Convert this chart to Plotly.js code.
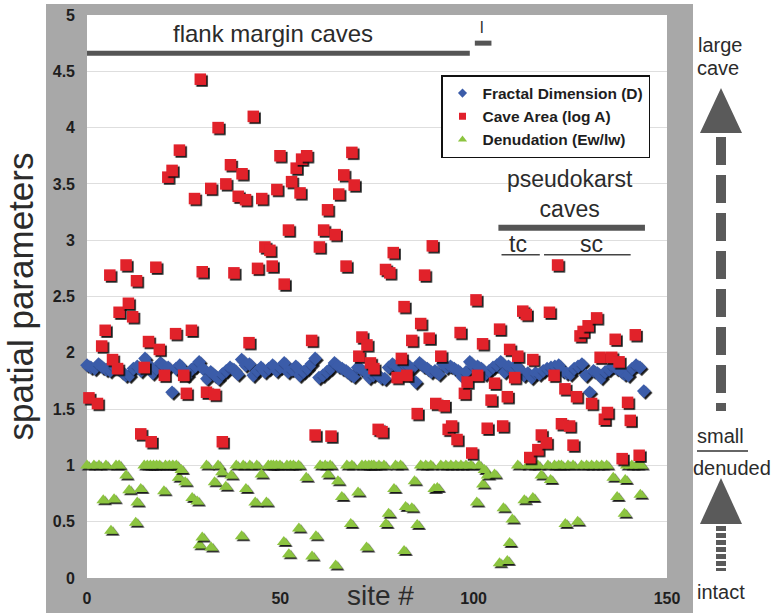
<!DOCTYPE html>
<html>
<head>
<meta charset="utf-8">
<script src="https://cdn.plot.ly/plotly-3.0.1.min.js"></script>
<style>
html,body{margin:0;padding:0;background:#fff;}
#chart{width:774px;height:615px;}
#chart .scatterlayer .points path{filter:url(#mkshadow);}
</style>
</head>
<body>
<svg width="0" height="0" style="position:absolute">
 <defs>
  <filter id="mkshadow" x="-60%" y="-60%" width="220%" height="220%">
   <feDropShadow dx="1.8" dy="1.8" stdDeviation="0.45" flood-color="#111" flood-opacity="0.95"/>
  </filter>
 </defs>
</svg>
<div id="chart"></div>
<script>
// ---------------- DATA ----------------
const seriesNames = ['Fractal Dimension (D)', 'Cave Area (log A)', 'Denudation (Ew/lw)'];

// Fractal dimension D, one per site
const fractalSites = [0,1,2,3,4,5,6,7,8,9,10,11,12,13,14,15,16,17,18,19,20,21,22,23,24,25,26,27,28,29,
  30,31,32,33,34,35,36,37,38,39,40,41,42,43,44,45,46,47,48,49,50,51,52,53,54,55,56,57,58,59,
  60,61,62,63,64,65,66,67,68,69,70,71,72,73,74,75,76,77,78,79,80,81,82,83,84,85,86,87,88,89,
  90,91,92,93,94,95,96,97,98,99,100,101,102,103,104,105,106,107,108,109,110,111,112,113,114,115,116,117,118,119,
  120,121,122,123,124,125,126,127,128,129,130,131,132,133,134,135,136,137,138,139,140,141,142,143,144];
const fractalD = [1.89,1.87,1.86,1.90,1.87,1.85,1.84,1.88,1.86,1.83,1.80,1.80,1.86,1.88,1.84,1.95,1.89,1.82,1.86,1.91,
  1.88,1.87,1.65,1.86,1.89,1.84,1.80,1.85,1.88,1.92,1.86,1.77,1.83,1.80,1.77,1.81,1.84,1.87,1.85,1.81,
  1.94,1.89,1.90,1.80,1.84,1.87,1.83,1.86,1.89,1.84,1.87,1.91,1.83,1.85,1.88,1.80,1.83,1.86,1.90,1.95,
  1.78,1.80,1.83,1.86,1.91,1.88,1.86,1.84,1.81,1.79,1.87,1.85,1.83,1.78,1.80,1.81,1.78,1.77,1.87,1.90,
  1.88,1.86,1.90,1.89,1.86,1.74,1.91,1.88,1.86,1.83,1.84,1.81,1.90,1.87,1.88,1.86,1.84,1.79,1.83,1.92,
  1.88,1.88,1.86,1.81,1.84,1.87,1.89,1.92,1.83,1.88,1.86,1.89,1.85,1.80,1.82,1.78,1.82,1.81,1.84,1.86,
  1.87,1.88,1.89,1.84,1.82,1.81,1.86,1.88,1.90,1.80,1.65,1.84,1.82,1.78,1.83,1.85,1.88,1.86,1.84,1.81,
  1.80,1.86,1.89,1.87,1.66];

// Cave area (log A)
const caveSites = [0.5,2.7,3.8,4.7,5.9,6.6,7.9,8.3,10.1,10.7,
  11.8,12.8,13.9,14.8,15.9,16.6,17.8,18.7,20.0,20.9,
  22.0,22.9,23.9,25.0,25.7,27.0,27.8,29.3,29.8,30.9,
  32.0,33.0,33.9,35.0,35.9,37.1,38.0,39.1,40.1,41.0,
  41.9,43.0,44.1,45.2,46.0,47.3,47.9,49.1,49.9,51.0,
  52.1,52.9,54.1,55.1,55.5,56.8,58.1,59.0,60.1,61.2,
  62.2,63.1,64.2,65.1,66.4,67.0,68.5,69.1,70.3,71.1,
  72.4,73.3,74.2,75.3,76.3,77.2,78.3,79.2,80.2,81.3,
  82.0,82.7,84.0,85.4,86.3,87.3,88.5,89.3,90.2,91.5,
  92.4,93.4,94.3,95.7,96.5,97.6,98.3,99.5,100.6,101.0,
  102.3,103.5,104.5,105.4,106.7,107.5,108.7,109.3,110.6,111.4,
  112.7,113.6,114.5,115.3,116.6,117.5,118.8,119.6,120.8,121.7,
  122.7,123.6,124.8,125.7,126.6,127.5,128.3,129.6,130.5,131.8,
  132.7,133.8,134.6,135.7,136.6,137.6,138.4,139.8,140.5,141.8,
  142.8];
const caveLogA = [1.60,1.55,2.06,2.20,2.69,1.94,1.86,2.36,2.78,2.44,
  2.32,2.64,1.28,1.87,2.10,1.21,2.76,2.03,1.80,3.56,
  3.62,2.17,3.80,1.80,1.64,2.20,3.37,4.43,2.72,1.65,
  3.46,1.63,4.00,1.21,3.50,3.67,2.71,3.39,3.59,3.36,
  2.09,4.10,2.75,3.37,2.94,2.91,2.77,3.45,3.75,2.61,
  3.09,3.52,3.64,3.42,3.72,3.75,2.11,1.27,2.94,3.09,
  3.27,1.26,3.05,3.41,3.58,2.77,3.78,3.49,1.97,2.14,
  2.07,1.91,1.86,1.32,1.30,2.74,2.71,2.89,1.78,1.95,
  2.41,1.80,2.11,1.46,2.26,2.69,2.13,2.95,1.55,1.97,
  1.53,1.32,1.35,1.23,2.18,1.64,1.74,1.11,2.47,1.80,
  2.08,1.33,1.58,1.73,2.21,1.35,1.61,2.03,1.78,1.97,
  2.37,2.34,1.07,1.94,1.14,1.27,1.20,2.36,1.80,2.78,
  1.37,1.68,1.35,1.18,1.61,2.15,2.19,2.24,1.55,2.31,
  1.96,1.41,1.47,1.96,2.12,1.92,1.06,1.56,1.40,2.16,
  1.09];

// Denudation (Ew/lw)
const denudSites = [0,1.8,3.1,4.2,4.9,6.2,7.0,7.5,8.3,10.1,10.9,12.6,13.0,13.9,14.8,15.6,16.4,17.2,18.0,18.8,
  19.9,20.3,21.3,22.2,23.1,23.7,24.4,25.4,27.2,28.5,29.1,29.8,30.9,32.1,33.0,33.9,34.9,35.9,37.3,38.6,
  40.0,40.4,41.1,42.1,43.5,43.9,45.1,46.4,46.9,47.6,48.2,49.0,49.9,50.9,51.7,52.2,52.6,53.4,54.7,54.8,
  56.7,58.2,59.2,60.3,61.6,62.3,62.9,64.3,64.9,65.9,67.2,68.2,68.5,70.1,71.1,72.0,72.3,72.9,73.6,74.2,
  75.5,76.8,77.3,78.0,79.4,79.8,81.1,82.0,82.4,84.0,84.7,85.4,86.3,87.6,88.9,89.8,90.6,91.5,92.8,94.1,
  95.4,96.7,98.0,99.3,100.8,101.4,102.4,102.8,103.6,105.4,106.7,107.7,108.7,109.3,110.0,111.4,113.1,114.0,115.3,115.6,
  116.6,117.5,119.2,119.9,120.9,122.0,122.7,123.7,124.4,125.7,126.9,127.9,129.2,130.5,131.8,133.1,134.4,136.1,137.1,139.0,
  139.2,139.6,140.9,142.2,143.1,143.3];
const denudEwLw = [1,1,1,0.69,1,0.42,0.70,1,1,0.91,0.78,0.49,0.67,0.79,1,1,1,1,1,1,
  0.77,1,1,1,1,0.89,0.96,0.85,0.71,0.68,0.29,0.36,1,0.27,0.85,1,0.94,0.81,0.91,1,
  0.37,1,0.79,1,0.67,1,0.92,0.67,1,1,1,1,1,0.32,1,0.21,1,1,1,0.44,
  0.89,0.19,0.37,1,1,0.92,1,0.11,0.86,0.72,1,0.48,1,0.76,1,1,0.27,1,1,1,
  1,1,0.48,0.57,0.79,1,1,0.24,0.63,0.62,0.86,0.47,1,1,1,0.79,0.80,1,1,1,
  1,1,1,1,0.67,1,0.83,0.96,0.91,0.92,0.13,0.62,0.15,0.31,0.52,1,0.69,1,0.71,1,
  1,0.91,1,0.87,1,1,1,0.48,1,1,0.50,1,1,1,1,1,1,0.89,0.72,0.57,
  0.87,1,1,1,0.74,1];

const xTickVals = [0, 50, 100, 150];
const yTickVals = [0, 0.5, 1, 1.5, 2, 2.5, 3, 3.5, 4, 4.5, 5];

// ---------------- STYLE ----------------
const FONT = 'Liberation Sans, Arial, Helvetica, sans-serif';
const C_BLUE = '#3b5ca9', C_RED = '#e1202c', C_GREEN = '#8cc43f';
const GRAYBAND = '#a8a8a8', DARK = '#555555', TXT = '#2b2b2b';

const W = 774, H = 615, ML = 87, MR = 107, MT = 15, MB = 37;
const PW = W - ML - MR, PH = H - MT - MB;
const px = p => (p - ML) / PW;          // pixel x -> paper x
const py = p => (H - MB - p) / PH;      // pixel y -> paper y

const mk = (sites, vals, name, symbol, size, color) => ({
  type: 'scatter', mode: 'markers', x: sites, y: vals, name: name,
  marker: {symbol: symbol, size: size, color: color, line: {width: 0}},
  cliponaxis: false, showlegend: false, hoverinfo: 'x+y'
});
const legendOnly = (name, symbol, size, color) => ({
  type: 'scatter', mode: 'markers', x: [null], y: [null], name: name,
  marker: {symbol: symbol, size: size, color: color, line: {width: 0}},
  showlegend: true, hoverinfo: 'skip'
});

const data = [
  mk(denudSites, denudEwLw, seriesNames[2], 'triangle-up', 12, C_GREEN),
  mk(fractalSites, fractalD, seriesNames[0], 'diamond', 10.5, C_BLUE),
  mk(caveSites, caveLogA, seriesNames[1], 'square', 11.5, C_RED),
  legendOnly(seriesNames[0], 'diamond', 7, C_BLUE),
  legendOnly(seriesNames[1], 'square', 7, C_RED),
  legendOnly(seriesNames[2], 'triangle-up', 8, C_GREEN)
];

const dLine = (x0, x1, y, w, col) => ({type: 'line', xref: 'x', yref: 'y', x0: x0, x1: x1, y0: y, y1: y,
  line: {color: col, width: w}, layer: 'above'});
const pLine = (x0, y0, x1, y1, w, col, dash) => ({type: 'line', xref: 'paper', yref: 'paper',
  x0: px(x0), y0: py(y0), x1: px(x1), y1: py(y1), line: {color: col, width: w, dash: dash || 'solid'}});
const head = (tipY, baseY) => ({type: 'path', xref: 'paper', yref: 'paper',
  path: `M ${px(721)},${py(tipY)} L ${px(742)},${py(baseY)} L ${px(700)},${py(baseY)} Z`,
  fillcolor: '#5a5a5a', line: {width: 0}});

const shapes = [
  {type: 'rect', xref: 'paper', yref: 'paper', x0: px(46), x1: px(693), y0: py(613), y1: py(4),
   fillcolor: GRAYBAND, line: {width: 0}, layer: 'below'},
  {type: 'rect', xref: 'paper', yref: 'paper', x0: 0, x1: 1, y0: 0, y1: 1,
   fillcolor: '#ffffff', line: {width: 0}, layer: 'below'},
  dLine(0, 99, 4.66, 5, DARK),
  dLine(100.3, 104.6, 4.75, 5, DARK),
  dLine(106.4, 144.3, 3.11, 6, DARK),
  dLine(107.2, 117.1, 2.87, 1.5, '#444'),
  dLine(118.2, 140.6, 2.87, 1.5, '#444'),
  head(88, 133),
  pLine(721, 137, 721, 411, 10, '#5a5a5a', '28px,10px'),
  pLine(697, 451, 748, 451, 1.5, '#333'),
  head(478, 524),
  pLine(721, 526, 721, 571, 10, '#5a5a5a', '5px,2px')
];

const dAnn = (x, y, text, size) => ({xref: 'x', yref: 'y', x: x, y: y, text: text, showarrow: false,
  xanchor: 'center', yanchor: 'middle', font: {family: FONT, size: size, color: TXT}});
const pAnn = (x, y, text, size) => ({xref: 'paper', yref: 'paper', x: px(x), y: py(y), text: text, showarrow: false,
  xanchor: 'center', yanchor: 'middle', font: {family: FONT, size: size, color: TXT}});

const annotations = [
  dAnn(48.1, 4.84, 'flank margin caves', 24),
  dAnn(102.1, 4.89, 'l', 16),
  dAnn(124.9, 3.41, 'pseudokarst<br>caves', 23),
  dAnn(111.5, 2.97, 'tc', 23),
  dAnn(130.5, 2.97, 'sc', 23),
  pAnn(720, 45, 'large', 20),
  pAnn(718, 68, 'cave', 20),
  pAnn(720, 436, 'small', 20),
  pAnn(732, 468, 'denuded', 20),
  pAnn(721, 592, 'intact', 20),
  pAnn(380, 595, 'site #', 28)
];

const layout = {
  width: W, height: H, autosize: false,
  margin: {l: ML, r: MR, t: MT, b: MB, pad: 0},
  paper_bgcolor: '#ffffff', plot_bgcolor: '#ffffff',
  font: {family: FONT, color: TXT},
  xaxis: {
    range: [0, 150], tickmode: 'array', tickvals: xTickVals, ticktext: xTickVals.map(String),
    showgrid: false, zeroline: false, showline: false, ticks: '',
    tickfont: {family: FONT, size: 16, weight: 'bold', color: '#1e1e1e'},
    ticklabelstandoff: 9, automargin: false
  },
  yaxis: {
    range: [0, 5], tickmode: 'array', tickvals: yTickVals, ticktext: yTickVals.map(String),
    showgrid: true, gridcolor: '#dedede', gridwidth: 1, zeroline: false, showline: false, ticks: '',
    tickfont: {family: FONT, size: 16, weight: 'bold', color: '#1e1e1e'},
    ticklabelstandoff: 11, automargin: false,
    title: {text: 'spatial parameters\u00a0\u00a0\u00a0', font: {family: FONT, size: 35, color: TXT}, standoff: 8}
  },
  showlegend: true,
  legend: {
    x: px(441), y: py(75), xanchor: 'left', yanchor: 'top',
    bgcolor: '#ffffff', bordercolor: '#111111', borderwidth: 1.5,
    font: {family: FONT, size: 15.5, weight: 'bold', color: '#1e1e1e'},
    itemwidth: 30, tracegroupgap: 0
  },
  shapes: shapes,
  annotations: annotations
};

Plotly.newPlot('chart', data, layout, {displayModeBar: false, responsive: false});
</script>
</body>
</html>
